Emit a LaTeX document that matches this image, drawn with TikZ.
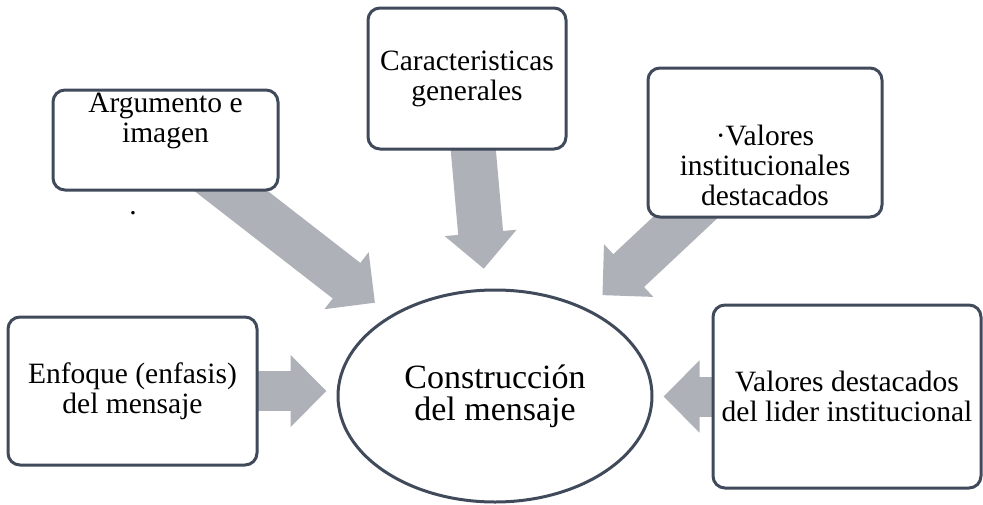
\documentclass[tikz,border=0pt]{standalone}
\usepackage{fontspec}
\setmainfont{Liberation Serif}
\usetikzlibrary{arrows.meta,shapes.geometric,backgrounds}
\definecolor{boxline}{RGB}{64,74,90}
\definecolor{arrowgray}{RGB}{174,177,184}
\tikzset{
  box/.style={draw=boxline, line width=3pt, rounded corners=12pt, fill=white, inner sep=0pt},
  txt/.style={align=center, font=\fontsize{29.5}{30}\selectfont},
  bigarrow/.style={draw=arrowgray, line width=#1, -{Triangle[length=36pt,width=70pt]}}
}

\begin{document}
\begin{tikzpicture}[x=1pt,y=-1pt]
\useasboundingbox (0,0) rectangle (983,504);

% boxes round the centre
\node[box, minimum width=225pt, minimum height=100pt] (arg) at (165.5,140) {};
\node[txt] (argtxt) at ([yshift=19pt]arg.center) {Argumento e\\imagen};
\node[txt] (dot) at (133,213) {.};

\node[box, txt, minimum width=198pt, minimum height=141pt] (car) at (467,78.5) {Caracteristicas\\generales};

\node[box, minimum width=234pt, minimum height=149pt] (vi) at (765,142.5) {};
\node[txt] (vitxt) at ([yshift=-22.5pt]vi.center) {·Valores\\institucionales\\destacados};

\node[box, txt, minimum width=249pt, minimum height=148pt] (enf) at (132.5,391) {Enfoque (enfasis)\\del mensaje};

\node[box, txt, minimum width=268pt, minimum height=183pt] (vd) at (847,396.5) {Valores destacados\\del lider institucional};

\node[ellipse, draw=boxline, line width=3pt, fill=white, minimum width=314pt, minimum height=212pt,
      align=center, font=\fontsize{34}{32}\selectfont] (cons) at (495,396) {Construcción\\del mensaje};

% grey arrows behind the boxes
\begin{pgfonlayer}{background}
\draw[bigarrow=45pt, shorten <=-30pt, shorten >=20pt] (arg) -- (cons);
\draw[bigarrow=45pt, shorten <=-30pt, shorten >=20pt] (car) -- (cons);
\draw[bigarrow=45pt, shorten <=-30pt, shorten >=20pt] (vi) -- (cons);
\draw[bigarrow=40pt, shorten <=-5pt, shorten >=10pt] (enf.east) -- (enf.east -| cons.west);
\draw[bigarrow=40pt, shorten <=-5pt, shorten >=10pt] (vd.west) -- (vd.west -| cons.east);
\end{pgfonlayer}
\end{tikzpicture}
\end{document}
